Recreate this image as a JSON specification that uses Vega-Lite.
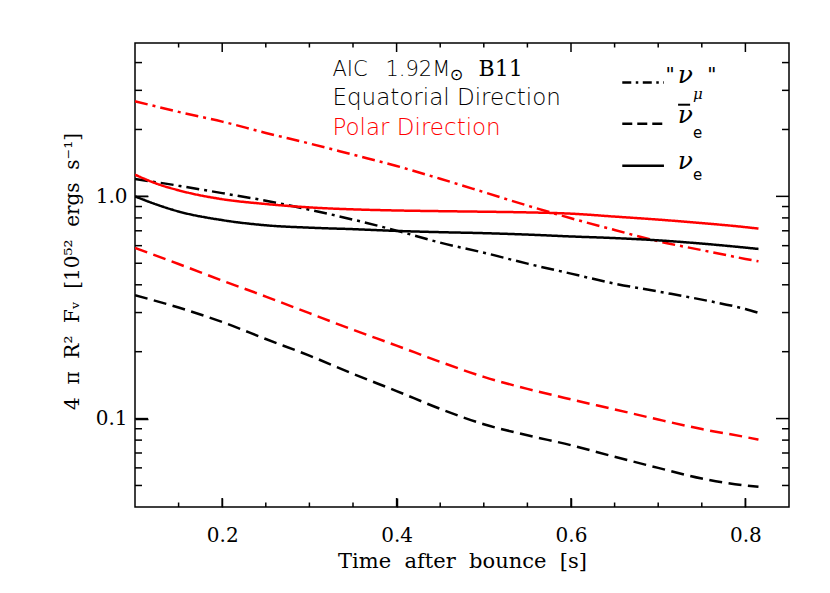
{
  "$schema": "https://vega.github.io/schema/vega-lite/v6.json",
  "width": 654,
  "height": 464,
  "autosize": {"type": "none"},
  "padding": {"left": 135, "top": 43, "right": 41, "bottom": 86},
  "background": "white",
  "config": {
    "view": {"stroke": "black", "strokeWidth": 1.5},
    "axis": {
      "zindex": 1,
      "grid": false,
      "domain": false,
      "ticks": true,
      "tickColor": "black",
      "tickWidth": 1.5,
      "tickOpacity": 1,
      "labelColor": "black",
      "titleColor": "black",
      "labelFlush": false,
      "labelOverlap": false
    }
  },
  "datasets": {
    "xmajor": [{"v": 0.2}, {"v": 0.4}, {"v": 0.6}, {"v": 0.8}],
    "xminor": [{"v": 0.15}, {"v": 0.25}, {"v": 0.3}, {"v": 0.35}, {"v": 0.45}, {"v": 0.5}, {"v": 0.55}, {"v": 0.65}, {"v": 0.7}, {"v": 0.75}],
    "ymajor": [{"v": 0.1}, {"v": 1}],
    "yminor": [{"v": 0.05}, {"v": 0.06}, {"v": 0.07}, {"v": 0.08}, {"v": 0.09}, {"v": 0.2}, {"v": 0.3}, {"v": 0.4}, {"v": 0.5}, {"v": 0.6}, {"v": 0.7}, {"v": 0.8}, {"v": 0.9}, {"v": 2}, {"v": 3}, {"v": 4}]
  },
  "resolve": {"axis": {"x": "independent", "y": "independent"}},
  "layer": [
    {
      "data": {"values": [
        {"t": 0.1, "L": 1.197, "dir": "Equatorial", "flavor": "numu"},
        {"t": 0.15, "L": 1.117, "dir": "Equatorial", "flavor": "numu"},
        {"t": 0.2, "L": 1.034, "dir": "Equatorial", "flavor": "numu"},
        {"t": 0.25, "L": 0.956, "dir": "Equatorial", "flavor": "numu"},
        {"t": 0.3, "L": 0.871, "dir": "Equatorial", "flavor": "numu"},
        {"t": 0.35, "L": 0.786, "dir": "Equatorial", "flavor": "numu"},
        {"t": 0.4, "L": 0.701, "dir": "Equatorial", "flavor": "numu"},
        {"t": 0.45, "L": 0.619, "dir": "Equatorial", "flavor": "numu"},
        {"t": 0.5, "L": 0.558, "dir": "Equatorial", "flavor": "numu"},
        {"t": 0.55, "L": 0.498, "dir": "Equatorial", "flavor": "numu"},
        {"t": 0.6, "L": 0.449, "dir": "Equatorial", "flavor": "numu"},
        {"t": 0.65, "L": 0.405, "dir": "Equatorial", "flavor": "numu"},
        {"t": 0.7, "L": 0.373, "dir": "Equatorial", "flavor": "numu"},
        {"t": 0.75, "L": 0.343, "dir": "Equatorial", "flavor": "numu"},
        {"t": 0.8, "L": 0.311, "dir": "Equatorial", "flavor": "numu"},
        {"t": 0.815, "L": 0.299, "dir": "Equatorial", "flavor": "numu"},

        {"t": 0.1, "L": 2.68, "dir": "Polar", "flavor": "numu"},
        {"t": 0.15, "L": 2.4, "dir": "Polar", "flavor": "numu"},
        {"t": 0.2, "L": 2.17, "dir": "Polar", "flavor": "numu"},
        {"t": 0.25, "L": 1.93, "dir": "Polar", "flavor": "numu"},
        {"t": 0.3, "L": 1.73, "dir": "Polar", "flavor": "numu"},
        {"t": 0.35, "L": 1.54, "dir": "Polar", "flavor": "numu"},
        {"t": 0.4, "L": 1.37, "dir": "Polar", "flavor": "numu"},
        {"t": 0.45, "L": 1.2, "dir": "Polar", "flavor": "numu"},
        {"t": 0.5, "L": 1.045, "dir": "Polar", "flavor": "numu"},
        {"t": 0.55, "L": 0.909, "dir": "Polar", "flavor": "numu"},
        {"t": 0.6, "L": 0.797, "dir": "Polar", "flavor": "numu"},
        {"t": 0.65, "L": 0.706, "dir": "Polar", "flavor": "numu"},
        {"t": 0.7, "L": 0.628, "dir": "Polar", "flavor": "numu"},
        {"t": 0.75, "L": 0.573, "dir": "Polar", "flavor": "numu"},
        {"t": 0.8, "L": 0.523, "dir": "Polar", "flavor": "numu"},
        {"t": 0.815, "L": 0.51, "dir": "Polar", "flavor": "numu"},

        {"t": 0.1, "L": 1.0, "dir": "Equatorial", "flavor": "nue"},
        {"t": 0.125, "L": 0.918, "dir": "Equatorial", "flavor": "nue"},
        {"t": 0.15, "L": 0.855, "dir": "Equatorial", "flavor": "nue"},
        {"t": 0.2, "L": 0.782, "dir": "Equatorial", "flavor": "nue"},
        {"t": 0.25, "L": 0.741, "dir": "Equatorial", "flavor": "nue"},
        {"t": 0.3, "L": 0.723, "dir": "Equatorial", "flavor": "nue"},
        {"t": 0.35, "L": 0.712, "dir": "Equatorial", "flavor": "nue"},
        {"t": 0.4, "L": 0.699, "dir": "Equatorial", "flavor": "nue"},
        {"t": 0.45, "L": 0.69, "dir": "Equatorial", "flavor": "nue"},
        {"t": 0.5, "L": 0.683, "dir": "Equatorial", "flavor": "nue"},
        {"t": 0.55, "L": 0.673, "dir": "Equatorial", "flavor": "nue"},
        {"t": 0.6, "L": 0.66, "dir": "Equatorial", "flavor": "nue"},
        {"t": 0.65, "L": 0.649, "dir": "Equatorial", "flavor": "nue"},
        {"t": 0.7, "L": 0.634, "dir": "Equatorial", "flavor": "nue"},
        {"t": 0.75, "L": 0.613, "dir": "Equatorial", "flavor": "nue"},
        {"t": 0.8, "L": 0.588, "dir": "Equatorial", "flavor": "nue"},
        {"t": 0.815, "L": 0.58, "dir": "Equatorial", "flavor": "nue"},

        {"t": 0.1, "L": 1.252, "dir": "Polar", "flavor": "nue"},
        {"t": 0.125, "L": 1.14, "dir": "Polar", "flavor": "nue"},
        {"t": 0.15, "L": 1.065, "dir": "Polar", "flavor": "nue"},
        {"t": 0.2, "L": 0.971, "dir": "Polar", "flavor": "nue"},
        {"t": 0.25, "L": 0.924, "dir": "Polar", "flavor": "nue"},
        {"t": 0.3, "L": 0.892, "dir": "Polar", "flavor": "nue"},
        {"t": 0.35, "L": 0.874, "dir": "Polar", "flavor": "nue"},
        {"t": 0.4, "L": 0.864, "dir": "Polar", "flavor": "nue"},
        {"t": 0.45, "L": 0.858, "dir": "Polar", "flavor": "nue"},
        {"t": 0.5, "L": 0.853, "dir": "Polar", "flavor": "nue"},
        {"t": 0.55, "L": 0.847, "dir": "Polar", "flavor": "nue"},
        {"t": 0.6, "L": 0.836, "dir": "Polar", "flavor": "nue"},
        {"t": 0.65, "L": 0.811, "dir": "Polar", "flavor": "nue"},
        {"t": 0.7, "L": 0.786, "dir": "Polar", "flavor": "nue"},
        {"t": 0.75, "L": 0.758, "dir": "Polar", "flavor": "nue"},
        {"t": 0.8, "L": 0.727, "dir": "Polar", "flavor": "nue"},
        {"t": 0.815, "L": 0.716, "dir": "Polar", "flavor": "nue"},

        {"t": 0.1, "L": 0.359, "dir": "Equatorial", "flavor": "nuebar"},
        {"t": 0.15, "L": 0.316, "dir": "Equatorial", "flavor": "nuebar"},
        {"t": 0.2, "L": 0.272, "dir": "Equatorial", "flavor": "nuebar"},
        {"t": 0.25, "L": 0.228, "dir": "Equatorial", "flavor": "nuebar"},
        {"t": 0.3, "L": 0.192, "dir": "Equatorial", "flavor": "nuebar"},
        {"t": 0.35, "L": 0.159, "dir": "Equatorial", "flavor": "nuebar"},
        {"t": 0.4, "L": 0.133, "dir": "Equatorial", "flavor": "nuebar"},
        {"t": 0.45, "L": 0.1106, "dir": "Equatorial", "flavor": "nuebar"},
        {"t": 0.5, "L": 0.0943, "dir": "Equatorial", "flavor": "nuebar"},
        {"t": 0.55, "L": 0.0841, "dir": "Equatorial", "flavor": "nuebar"},
        {"t": 0.6, "L": 0.0759, "dir": "Equatorial", "flavor": "nuebar"},
        {"t": 0.65, "L": 0.0673, "dir": "Equatorial", "flavor": "nuebar"},
        {"t": 0.7, "L": 0.06, "dir": "Equatorial", "flavor": "nuebar"},
        {"t": 0.75, "L": 0.0537, "dir": "Equatorial", "flavor": "nuebar"},
        {"t": 0.8, "L": 0.05, "dir": "Equatorial", "flavor": "nuebar"},
        {"t": 0.815, "L": 0.0493, "dir": "Equatorial", "flavor": "nuebar"},

        {"t": 0.1, "L": 0.586, "dir": "Polar", "flavor": "nuebar"},
        {"t": 0.15, "L": 0.496, "dir": "Polar", "flavor": "nuebar"},
        {"t": 0.2, "L": 0.418, "dir": "Polar", "flavor": "nuebar"},
        {"t": 0.25, "L": 0.354, "dir": "Polar", "flavor": "nuebar"},
        {"t": 0.3, "L": 0.298, "dir": "Polar", "flavor": "nuebar"},
        {"t": 0.35, "L": 0.251, "dir": "Polar", "flavor": "nuebar"},
        {"t": 0.4, "L": 0.213, "dir": "Polar", "flavor": "nuebar"},
        {"t": 0.45, "L": 0.18, "dir": "Polar", "flavor": "nuebar"},
        {"t": 0.5, "L": 0.154, "dir": "Polar", "flavor": "nuebar"},
        {"t": 0.55, "L": 0.136, "dir": "Polar", "flavor": "nuebar"},
        {"t": 0.6, "L": 0.122, "dir": "Polar", "flavor": "nuebar"},
        {"t": 0.65, "L": 0.11, "dir": "Polar", "flavor": "nuebar"},
        {"t": 0.7, "L": 0.099, "dir": "Polar", "flavor": "nuebar"},
        {"t": 0.75, "L": 0.0897, "dir": "Polar", "flavor": "nuebar"},
        {"t": 0.8, "L": 0.0826, "dir": "Polar", "flavor": "nuebar"},
        {"t": 0.815, "L": 0.0804, "dir": "Polar", "flavor": "nuebar"}
      ]},
      "mark": {"type": "line", "strokeWidth": 2.5, "clip": true, "interpolate": "monotone"},
      "encoding": {
        "x": {
          "field": "t", "type": "quantitative",
          "scale": {"domain": [0.1, 0.85], "nice": false, "zero": false},
          "axis": {
            "orient": "bottom",
            "offset": -9,
            "values": [0.2, 0.4, 0.6, 0.8],
            "format": ".1f",
            "ticks": true, "tickColor": "black", "tickWidth": 1.5, "tickOpacity": 1,
            "tickSize": 9,
            "labelPadding": 18,
            "labelFont": "DejaVu Serif",
            "labelFontSize": 20,
            "title": "Time\u00a0\u00a0after\u00a0\u00a0bounce\u00a0\u00a0[s]",
            "titleFont": "DejaVu Serif",
            "titleFontSize": 21,
            "titleFontWeight": "normal",
            "titleBaseline": "alphabetic",
            "titleY": 69
          }
        },
        "y": {
          "field": "L", "type": "quantitative",
          "scale": {"type": "log", "domain": [0.04, 4.9], "nice": false},
          "axis": {
            "orient": "left",
            "offset": -13,
            "values": [0.1, 1],
            "labelExpr": "datum.value == 1 ? '1.0' : '0.1'",
            "ticks": true, "tickColor": "black", "tickWidth": 1.5, "tickOpacity": 1,
            "tickSize": 13,
            "labelPadding": 8,
            "labelFont": "DejaVu Serif",
            "labelFontSize": 20,
            "title": "4\u00a0\u00a0π\u00a0\u00a0R²\u00a0\u00a0Fᵥ\u00a0\u00a0[10⁵²\u00a0\u00a0ergs\u00a0\u00a0s⁻¹]",
            "titleFont": "DejaVu Serif",
            "titleFontSize": 20,
            "titleFontWeight": "normal",
            "titleBaseline": "alphabetic",
            "titleX": -70,
            "titleY": 228
          }
        },
        "color": {"field": "dir", "type": "nominal", "scale": {"domain": ["Equatorial", "Polar"], "range": ["#000000", "#ff0000"]}, "legend": null},
        "strokeDash": {"field": "flavor", "type": "nominal", "scale": {"domain": ["numu", "nuebar", "nue"], "range": [[13, 5, 3, 5], [13, 6.5], [1, 0]]}, "legend": null}
      }
    },
    {
      "data": {"name": "xmajor"},
      "mark": {"type": "rule", "color": "black", "strokeWidth": 1.5},
      "encoding": {
        "x": {"field": "v", "type": "quantitative", "axis": null},
        "y": {"datum": 0.04, "type": "quantitative", "axis": null},
        "y2": {"datum": 0.04391}
      }
    },
    {
      "data": {"name": "xminor"},
      "mark": {"type": "rule", "color": "black", "strokeWidth": 1.5},
      "encoding": {
        "x": {"field": "v", "type": "quantitative", "axis": null},
        "y": {"datum": 0.04, "type": "quantitative", "axis": null},
        "y2": {"datum": 0.04191}
      }
    },
    {
      "data": {"name": "xmajor"},
      "mark": {"type": "rule", "color": "black", "strokeWidth": 1.5},
      "encoding": {
        "x": {"field": "v", "type": "quantitative", "axis": null},
        "y": {"datum": 4.9, "type": "quantitative", "axis": null},
        "y2": {"datum": 4.464}
      }
    },
    {
      "data": {"name": "xminor"},
      "mark": {"type": "rule", "color": "black", "strokeWidth": 1.5},
      "encoding": {
        "x": {"field": "v", "type": "quantitative", "axis": null},
        "y": {"datum": 4.9, "type": "quantitative", "axis": null},
        "y2": {"datum": 4.677}
      }
    },
    {
      "data": {"name": "ymajor"},
      "mark": {"type": "rule", "color": "black", "strokeWidth": 1.5},
      "encoding": {
        "y": {"field": "v", "type": "quantitative", "axis": null},
        "x": {"datum": 0.1, "type": "quantitative", "axis": null},
        "x2": {"datum": 0.1149}
      }
    },
    {
      "data": {"name": "yminor"},
      "mark": {"type": "rule", "color": "black", "strokeWidth": 1.5},
      "encoding": {
        "y": {"field": "v", "type": "quantitative", "axis": null},
        "x": {"datum": 0.1, "type": "quantitative", "axis": null},
        "x2": {"datum": 0.10802}
      }
    },
    {
      "data": {"name": "ymajor"},
      "mark": {"type": "rule", "color": "black", "strokeWidth": 1.5},
      "encoding": {
        "y": {"field": "v", "type": "quantitative", "axis": null},
        "x": {"datum": 0.85, "type": "quantitative", "axis": null},
        "x2": {"datum": 0.8351}
      }
    },
    {
      "data": {"name": "yminor"},
      "mark": {"type": "rule", "color": "black", "strokeWidth": 1.5},
      "encoding": {
        "y": {"field": "v", "type": "quantitative", "axis": null},
        "x": {"datum": 0.85, "type": "quantitative", "axis": null},
        "x2": {"datum": 0.84198}
      }
    },
    {
      "data": {"values": [{}]},
      "mark": {"type": "text", "text": "AIC", "font": "DejaVu Sans", "fontSize": 21, "fontWeight": 300, "align": "left", "baseline": "alphabetic", "color": "black"},
      "encoding": {
        "x": {"datum": 0.3264, "type": "quantitative", "axis": null},
        "y": {"datum": 3.466, "type": "quantitative", "axis": null}
      }
    },
    {
      "data": {"values": [{}]},
      "mark": {"type": "text", "text": "1.92M", "font": "DejaVu Sans", "fontSize": 21, "fontWeight": 300, "align": "left", "baseline": "alphabetic", "color": "black"},
      "encoding": {
        "x": {"datum": 0.3872, "type": "quantitative", "axis": null},
        "y": {"datum": 3.466, "type": "quantitative", "axis": null}
      }
    },
    {
      "data": {"values": [{}]},
      "mark": {"type": "text", "text": "⊙", "font": "DejaVu Sans", "fontSize": 16, "align": "center", "baseline": "middle", "color": "black"},
      "encoding": {
        "x": {"datum": 0.4687, "type": "quantitative", "axis": null},
        "y": {"datum": 3.51, "type": "quantitative", "axis": null}
      }
    },
    {
      "data": {"values": [{}]},
      "mark": {"type": "text", "text": "B11", "font": "DejaVu Serif", "fontSize": 22, "align": "left", "baseline": "alphabetic", "color": "black"},
      "encoding": {
        "x": {"datum": 0.4939, "type": "quantitative", "axis": null},
        "y": {"datum": 3.466, "type": "quantitative", "axis": null}
      }
    },
    {
      "data": {"values": [{}]},
      "mark": {"type": "text", "text": "Equatorial\u00a0Direction", "font": "DejaVu Sans", "fontSize": 23, "fontWeight": 300, "align": "left", "baseline": "alphabetic", "color": "black"},
      "encoding": {
        "x": {"datum": 0.3264, "type": "quantitative", "axis": null},
        "y": {"datum": 2.585, "type": "quantitative", "axis": null}
      }
    },
    {
      "data": {"values": [{}]},
      "mark": {"type": "text", "text": "Polar\u00a0Direction", "font": "DejaVu Sans", "fontSize": 23, "fontWeight": 300, "align": "left", "baseline": "alphabetic", "color": "#ff0000"},
      "encoding": {
        "x": {"datum": 0.3264, "type": "quantitative", "axis": null},
        "y": {"datum": 1.895, "type": "quantitative", "axis": null}
      }
    },
    {
      "data": {"values": [{}]},
      "mark": {"type": "rule", "color": "black", "strokeWidth": 2.5, "strokeDash": [9, 4.5, 2.5, 4.5]},
      "encoding": {
        "x": {"datum": 0.6588, "type": "quantitative", "axis": null},
        "x2": {"datum": 0.7066},
        "y": {"datum": 3.257, "type": "quantitative", "axis": null}
      }
    },
    {
      "data": {"values": [{}]},
      "mark": {"type": "rule", "color": "black", "strokeWidth": 2.5, "strokeDash": [10, 5]},
      "encoding": {
        "x": {"datum": 0.6588, "type": "quantitative", "axis": null},
        "x2": {"datum": 0.7066},
        "y": {"datum": 2.123, "type": "quantitative", "axis": null}
      }
    },
    {
      "data": {"values": [{}]},
      "mark": {"type": "rule", "color": "black", "strokeWidth": 2.5},
      "encoding": {
        "x": {"datum": 0.6588, "type": "quantitative", "axis": null},
        "x2": {"datum": 0.7066},
        "y": {"datum": 1.374, "type": "quantitative", "axis": null}
      }
    },
    {
      "data": {"values": [{}]},
      "mark": {"type": "text", "text": "\"", "font": "DejaVu Sans", "fontSize": 20, "align": "left", "baseline": "alphabetic", "color": "black"},
      "encoding": {
        "x": {"datum": 0.7085, "type": "quantitative", "axis": null},
        "y": {"datum": 3.304, "type": "quantitative", "axis": null}
      }
    },
    {
      "data": {"values": [{}]},
      "mark": {"type": "text", "text": "ν", "font": "DejaVu Serif", "fontStyle": "italic", "fontSize": 25, "align": "left", "baseline": "alphabetic", "color": "black"},
      "encoding": {
        "x": {"datum": 0.7223, "type": "quantitative", "axis": null},
        "y": {"datum": 3.237, "type": "quantitative", "axis": null}
      }
    },
    {
      "data": {"values": [{}]},
      "mark": {"type": "text", "text": "\"", "font": "DejaVu Sans", "fontSize": 20, "align": "left", "baseline": "alphabetic", "color": "black"},
      "encoding": {
        "x": {"datum": 0.7563, "type": "quantitative", "axis": null},
        "y": {"datum": 3.304, "type": "quantitative", "axis": null}
      }
    },
    {
      "data": {"values": [{}]},
      "mark": {"type": "text", "text": "μ", "font": "DejaVu Serif", "fontStyle": "italic", "fontSize": 15, "align": "left", "baseline": "alphabetic", "color": "black"},
      "encoding": {
        "x": {"datum": 0.74, "type": "quantitative", "axis": null},
        "y": {"datum": 2.751, "type": "quantitative", "axis": null}
      }
    },
    {
      "data": {"values": [{}]},
      "mark": {"type": "rule", "color": "black", "strokeWidth": 2},
      "encoding": {
        "x": {"datum": 0.7228, "type": "quantitative", "axis": null},
        "x2": {"datum": 0.7366},
        "y": {"datum": 2.585, "type": "quantitative", "axis": null}
      }
    },
    {
      "data": {"values": [{}]},
      "mark": {"type": "text", "text": "ν", "font": "DejaVu Serif", "fontStyle": "italic", "fontSize": 25, "align": "left", "baseline": "alphabetic", "color": "black"},
      "encoding": {
        "x": {"datum": 0.7223, "type": "quantitative", "axis": null},
        "y": {"datum": 2.139, "type": "quantitative", "axis": null}
      }
    },
    {
      "data": {"values": [{}]},
      "mark": {"type": "text", "text": "e", "font": "DejaVu Sans", "fontSize": 15, "align": "left", "baseline": "alphabetic", "color": "black"},
      "encoding": {
        "x": {"datum": 0.74, "type": "quantitative", "axis": null},
        "y": {"datum": 1.831, "type": "quantitative", "axis": null}
      }
    },
    {
      "data": {"values": [{}]},
      "mark": {"type": "text", "text": "ν", "font": "DejaVu Serif", "fontStyle": "italic", "fontSize": 25, "align": "left", "baseline": "alphabetic", "color": "black"},
      "encoding": {
        "x": {"datum": 0.7223, "type": "quantitative", "axis": null},
        "y": {"datum": 1.332, "type": "quantitative", "axis": null}
      }
    },
    {
      "data": {"values": [{}]},
      "mark": {"type": "text", "text": "e", "font": "DejaVu Sans", "fontSize": 15, "align": "left", "baseline": "alphabetic", "color": "black"},
      "encoding": {
        "x": {"datum": 0.74, "type": "quantitative", "axis": null},
        "y": {"datum": 1.189, "type": "quantitative", "axis": null}
      }
    }
  ]
}
